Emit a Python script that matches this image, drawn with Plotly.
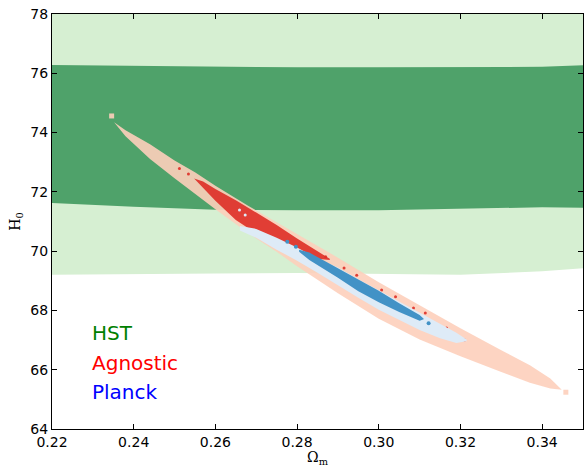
import plotly.graph_objects as go

# ---- HST bands (H0 boundaries vs Omega_m) ----
band_x = [0.22, 0.24, 0.26, 0.28, 0.30, 0.32, 0.34, 0.35]
hst_dark_top = [76.28, 76.25, 76.22, 76.20, 76.20, 76.20, 76.22, 76.27]
hst_dark_bot = [71.62, 71.50, 71.40, 71.38, 71.38, 71.42, 71.48, 71.46]
hst_light_bot = [69.20, 69.22, 69.25, 69.26, 69.22, 69.20, 69.32, 69.42]
hst_light_top = 78.0

# ---- Agnostic outer contour ----
agn_out_x = [0.2352, 0.238, 0.244, 0.25, 0.255, 0.26, 0.268, 0.275, 0.28, 0.29,
             0.30, 0.31, 0.32, 0.33, 0.337, 0.342, 0.3448]
agn_out_up = [74.35, 74.08, 73.61, 73.06, 72.66, 72.21, 71.53, 70.98, 70.57, 69.78,
              68.95, 68.18, 67.40, 66.66, 66.15, 65.70, 65.32]
agn_out_lo = [74.35, 73.88, 73.11, 72.46, 71.92, 71.41, 70.61, 69.98, 69.49, 68.58,
              67.72, 67.02, 66.45, 65.92, 65.56, 65.37, 65.32]

# ---- Agnostic inner contour ----
agn_in_x = [0.2548, 0.257, 0.26, 0.265, 0.27, 0.275, 0.28, 0.284, 0.288]
agn_in_up = [72.45, 72.35, 72.10, 71.72, 71.30, 70.88, 70.43, 70.08, 69.74]
agn_in_lo = [72.45, 72.15, 71.70, 71.05, 70.60, 70.15, 69.85, 69.75, 69.70]

# ---- Planck outer contour ----
pl_out_x = [0.266, 0.27, 0.275, 0.28, 0.285, 0.29, 0.295, 0.30, 0.305, 0.31,
            0.315, 0.319, 0.3215]
pl_out_up = [70.85, 70.75, 70.45, 70.12, 69.75, 69.45, 69.05, 68.68, 68.30, 67.92,
             67.55, 67.25, 67.02]
pl_out_lo = [70.70, 70.45, 70.05, 69.68, 69.27, 68.86, 68.43, 68.02, 67.68, 67.34,
             67.06, 66.90, 66.96]

# ---- Planck inner contour ----
pl_in_x = [0.2805, 0.283, 0.287, 0.29, 0.295, 0.30, 0.305, 0.31, 0.311]
pl_in_up = [70.05, 69.95, 69.65, 69.42, 69.06, 68.66, 68.24, 67.85, 67.72]
pl_in_lo = [69.98, 69.70, 69.35, 69.10, 68.65, 68.28, 67.95, 67.65, 67.70]

# small isolated blobs
salmon_dot_x = [0.2346, 0.3458]
salmon_dot_y = [74.56, 65.24]
red_dot_x = [0.2512, 0.2534, 0.2870, 0.2915, 0.2946, 0.3007, 0.3041, 0.3085,
             0.3114, 0.3166, 0.3210]
red_dot_y = [72.79, 72.60, 69.81, 69.43, 69.19, 68.69, 68.46, 68.08,
             67.91, 67.41, 67.00]
pale_dot_x = [0.2659, 0.2673]
pale_dot_y = [71.39, 71.22]
blue_dot_x = [0.3122, 0.2797, 0.2776]
blue_dot_y = [67.57, 70.15, 70.32]

xticks = [0.22, 0.24, 0.26, 0.28, 0.30, 0.32, 0.34]
xtick_text = ["0.22", "0.24", "0.26", "0.28", "0.30", "0.32", "0.34"]
yticks = [64, 66, 68, 70, 72, 74, 76, 78]

LIGHT_GREEN = "rgb(214,239,210)"
DARK_GREEN = "rgb(79,162,106)"
SALMON = "rgba(253,207,187,0.9)"
RED = "rgba(222,45,38,0.9)"
LIGHT_BLUE = "rgb(222,235,247)"
BLUE = "rgb(66,146,198)"


def poly(x, up, lo):
    return list(x) + list(x)[::-1], list(up) + list(lo)[::-1]


fig = go.Figure()

px, py = poly(band_x, [hst_light_top] * len(band_x), hst_light_bot)
fig.add_trace(go.Scatter(x=px, y=py, fill="toself", fillcolor=LIGHT_GREEN,
                         line=dict(width=0), mode="lines", hoverinfo="skip"))
px, py = poly(band_x, hst_dark_top, hst_dark_bot)
fig.add_trace(go.Scatter(x=px, y=py, fill="toself", fillcolor=DARK_GREEN,
                         line=dict(width=0), mode="lines", hoverinfo="skip"))

for xs, up, lo, col in [(agn_out_x, agn_out_up, agn_out_lo, SALMON),
                        (agn_in_x, agn_in_up, agn_in_lo, RED)]:
    px, py = poly(xs, up, lo)
    fig.add_trace(go.Scatter(x=px, y=py, fill="toself", fillcolor=col,
                             line=dict(width=0), mode="lines", hoverinfo="skip"))

fig.add_trace(go.Scatter(x=salmon_dot_x, y=salmon_dot_y, mode="markers",
                         marker=dict(size=5, color=SALMON, symbol="square"), hoverinfo="skip"))
fig.add_trace(go.Scatter(x=red_dot_x, y=red_dot_y, mode="markers",
                         marker=dict(size=3, color=RED), hoverinfo="skip"))

for xs, up, lo, col in [(pl_out_x, pl_out_up, pl_out_lo, LIGHT_BLUE),
                        (pl_in_x, pl_in_up, pl_in_lo, BLUE)]:
    px, py = poly(xs, up, lo)
    fig.add_trace(go.Scatter(x=px, y=py, fill="toself", fillcolor=col,
                             line=dict(width=0), mode="lines", hoverinfo="skip"))

fig.add_trace(go.Scatter(x=pale_dot_x, y=pale_dot_y, mode="markers",
                         marker=dict(size=3, color=LIGHT_BLUE), hoverinfo="skip"))
fig.add_trace(go.Scatter(x=blue_dot_x, y=blue_dot_y, mode="markers",
                         marker=dict(size=4, color=BLUE), hoverinfo="skip"))

labels = [("HST", 67.24, "green"), ("Agnostic", 66.23, "red"), ("Planck", 65.25, "blue")]
for txt, yy, col in labels:
    fig.add_annotation(x=0.2292, y=yy, text=txt, showarrow=False, xanchor="left",
                       yanchor="middle", font=dict(family="DejaVu Sans", size=20, color=col))

axis_common = dict(showline=True, linecolor="black", linewidth=1.2, mirror="ticks",
                   ticks="inside", ticklen=5, tickcolor="black", showgrid=False,
                   zeroline=False, tickfont=dict(family="DejaVu Sans", size=14, color="black"))

fig.update_layout(
    width=584, height=467,
    margin=dict(l=52, r=1, t=14, b=38),
    paper_bgcolor="white", plot_bgcolor="white",
    showlegend=False,
    xaxis=dict(range=[0.22, 0.35], tickvals=xticks, ticktext=xtick_text,
               title=dict(text="Ω<sub>m</sub>", standoff=2,
                          font=dict(family="DejaVu Serif", size=14, color="black")),
               **axis_common),
    yaxis=dict(range=[64, 78], tickvals=yticks,
               title=dict(text="H<sub>0</sub>", standoff=6,
                          font=dict(family="DejaVu Serif", size=14, color="black")),
               **axis_common),
)

fig.write_html("out.html")
